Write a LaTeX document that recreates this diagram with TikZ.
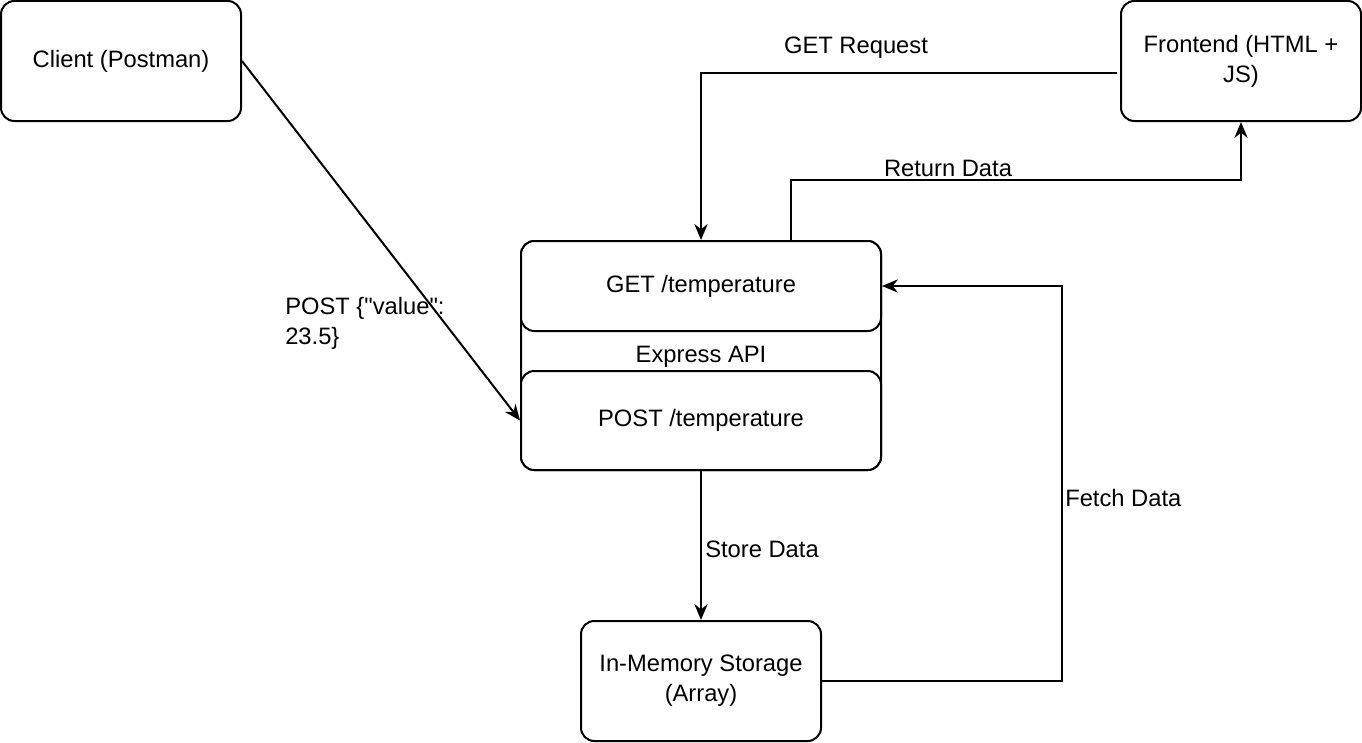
\documentclass[tikz,border=0pt]{standalone}
\usepackage{fontspec}
\setmainfont{Liberation Sans}
\usetikzlibrary{arrows.meta}
\usetikzlibrary{positioning}
\tikzset{
  every node/.style={font=\fontsize{17.8}{22.5}\selectfont},
  box/.style={draw, rounded corners=10pt, line width=1.5pt, fill=white,
    align=center, inner sep=0},
  lbl/.style={inner sep=0, align=left},
  arrow/.style={-{Stealth[length=12pt, width=10pt, inset=4pt]}, line width=1.5pt}
}

\begin{document}
\begin{tikzpicture}[x=0.75pt, y=-0.75pt]
  \useasboundingbox (0,0) rectangle (1362,742);

  \node [box, minimum width=180pt, minimum height=90pt] (client) at (121,61) {Client (Postman)};
  \node [box, minimum width=180pt, minimum height=90pt] (frontend) at (1241,61) {Frontend (HTML +\\JS)};

  % Express API container with its two routes
  \node [box, minimum width=270pt, minimum height=171.75pt] (api) at (701,355.5) {};
  \node [box, minimum width=270pt, minimum height=67.5pt] (get) at (701,286) {GET /temperature};
  \node [box, minimum width=270pt, minimum height=74.25pt] (post) at (701,420.5) {POST /temperature};
  \node [inner sep=0] (apilabel) at (701,357) {Express API};

  \node [box, minimum width=180pt, minimum height=90pt] (store) at (701,681) {In-Memory Storage\\(Array)};

  \draw [arrow] (client.east) -- (post.west);
  \draw [arrow] ([xshift=-2pt, yshift=-9pt]frontend.west) -| (get.north);
  \draw [arrow] ([xshift=67.5pt]get.north) -- ++(0,-60) -| (frontend.south);
  \draw [arrow] (post.south) -- (store.north);
  \draw [arrow] (store.east) -- ++(240,0) |- (get.east);

  \node [lbl] (getreq) at (856,48) {GET Request};
  \node [lbl] (retdata) at (948,168) {Return Data};
  \node [lbl, anchor=west] (storedata) at (705,549) {Store Data};
  \node [lbl, anchor=west] (fetchdata) at (1065,498) {Fetch Data};
  \node [lbl, anchor=west] (postdata) at (285,323) {POST \{\textquotedbl value\textquotedbl:\\23.5\}};
\end{tikzpicture}
\end{document}
